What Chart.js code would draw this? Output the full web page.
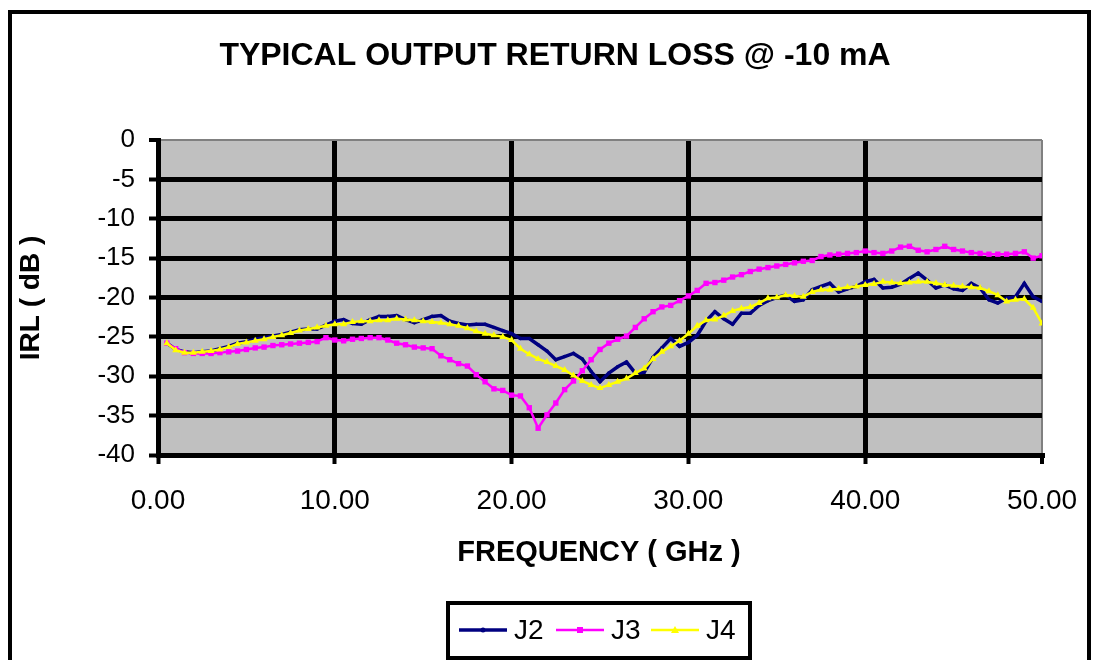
<!DOCTYPE html>
<html>
<head>
<meta charset="utf-8">
<title>Typical Output Return Loss</title>
<script src="https://cdn.jsdelivr.net/npm/chart.js@4.4.0/dist/chart.umd.min.js"></script>
<style>
    html, body { margin: 0; padding: 0; background: #fff; }
    #wrap { width: 1095px; height: 660px; }
</style>
</head>
<body>
<div id="wrap"><canvas id="irl" width="1095" height="660"></canvas></div>
<script>
// frequency in GHz, readings in dB
const freq = [
    0.5, 1.0, 1.5, 2.0, 2.5, 3.0, 3.5, 4.0, 4.5, 5.0,
    5.5, 6.0, 6.5, 7.0, 7.5, 8.0, 8.5, 9.0, 9.5, 10.0,
    10.5, 11.0, 11.5, 12.0, 12.5, 13.0, 13.5, 14.0, 14.5, 15.0,
    15.5, 16.0, 16.5, 17.0, 17.5, 18.0, 18.5, 19.0, 19.5, 20.0,
    20.5, 21.0, 21.5, 22.0, 22.5, 23.0, 23.5, 24.0, 24.5, 25.0,
    25.5, 26.0, 26.5, 27.0, 27.5, 28.0, 28.5, 29.0, 29.5, 30.0,
    30.5, 31.0, 31.5, 32.0, 32.5, 33.0, 33.5, 34.0, 34.5, 35.0,
    35.5, 36.0, 36.5, 37.0, 37.5, 38.0, 38.5, 39.0, 39.5, 40.0,
    40.5, 41.0, 41.5, 42.0, 42.5, 43.0, 43.5, 44.0, 44.5, 45.0,
    45.5, 46.0, 46.5, 47.0, 47.5, 48.0, 48.5, 49.0, 49.5, 50.0
];

const j2 = [
    -25.8, -26.6, -26.9, -27.0, -26.9, -26.8, -26.5, -26.2, -25.8, -25.6,
    -25.3, -25.1, -24.9, -24.7, -24.4, -24.1, -24.0, -24.0, -23.5, -23.0,
    -22.8, -23.3, -23.4, -22.8, -22.4, -22.4, -22.3, -22.8, -23.2, -22.8,
    -22.4, -22.3, -23.0, -23.3, -23.5, -23.4, -23.4, -23.8, -24.2, -24.6,
    -25.2, -25.2, -26.0, -26.8, -27.9, -27.5, -27.1, -27.8, -29.4, -30.7,
    -29.6, -28.8, -28.2, -29.6, -29.5, -27.6, -26.4, -25.2, -26.2, -25.7,
    -24.8, -23.0, -21.8, -22.7, -23.4, -22.0, -22.0, -21.0, -20.4, -20.0,
    -19.7, -20.5, -20.3, -19.0, -18.6, -18.2, -19.3, -18.9, -18.6, -18.0,
    -17.7, -18.8, -18.7, -18.3, -17.6, -16.9, -17.8, -18.8, -18.4, -18.9,
    -19.1, -18.2, -18.8, -20.3, -20.7, -20.1, -19.9, -18.2, -19.9, -20.5
];

const j3 = [
    -25.8, -26.5, -27.0, -27.1, -27.1, -27.1, -27.0, -26.9, -26.8, -26.6,
    -26.4, -26.3, -26.1, -26.0, -25.9, -25.8, -25.7, -25.6, -25.1, -25.4,
    -25.5, -25.3, -25.2, -25.1, -25.1, -25.4, -25.8, -26.0, -26.3, -26.4,
    -26.5, -27.4, -27.9, -28.4, -28.7, -29.8, -30.7, -31.6, -31.8, -32.4,
    -32.5, -34.0, -36.6, -34.9, -33.4, -31.7, -30.6, -29.3, -27.9, -26.6,
    -25.8, -25.3, -24.9, -23.8, -22.7, -21.8, -21.2, -21.0, -20.4, -19.8,
    -19.1, -18.2, -18.1, -17.8, -17.4, -17.1, -16.7, -16.4, -16.2, -16.0,
    -15.8, -15.6, -15.4, -15.3, -14.8, -14.6, -14.5, -14.4, -14.3, -14.1,
    -14.3, -14.4, -14.1, -13.6, -13.5, -14.0, -14.2, -13.9, -13.5, -13.9,
    -14.1, -14.3, -14.4, -14.5, -14.5, -14.5, -14.4, -14.2, -15.0, -14.7
];

const j4 = [
    -25.8, -26.7, -27.0, -27.0, -26.9, -26.8, -26.6, -26.3, -25.9, -25.7,
    -25.5, -25.3, -25.0, -24.8, -24.5, -24.2, -24.0, -23.8, -23.6, -23.4,
    -23.4, -23.1, -23.0, -23.0, -22.9, -22.9, -22.7, -22.8, -22.9, -23.0,
    -23.1, -23.2, -23.4, -23.6, -23.9, -24.3, -24.6, -24.8, -25.0, -25.4,
    -26.5, -27.2, -27.8, -28.2, -28.7, -29.2, -29.9, -30.6, -31.1, -31.5,
    -31.1, -30.7, -30.3, -29.6, -29.0, -27.8, -26.9, -26.2, -25.5, -24.6,
    -23.6, -22.9, -22.8, -22.3, -21.7, -21.4, -21.2, -20.7, -20.1, -20.0,
    -19.7, -19.8, -19.9, -19.3, -19.0, -19.0, -18.9, -18.7, -18.6, -18.4,
    -18.3, -18.0, -18.1, -18.2, -18.1, -18.0, -18.0, -18.2, -18.4, -18.5,
    -18.6, -18.7, -18.8, -19.2, -19.7, -20.5, -20.3, -20.2, -21.3, -23.3
];

const seriesNames = ["J2", "J3", "J4"];
const xTicks = [0, 10, 20, 30, 40, 50];
const yTicks = [0, -5, -10, -15, -20, -25, -30, -35, -40];

const FONT = "'Liberation Sans', Arial, sans-serif";

function pairs(vals) {
    return freq.map((f, i) => ({ x: f, y: vals[i] }));
}

// gray plot area + frame, titles and the boxed legend drawn by hand
const excelLook = {
    id: "excelLook",
    beforeDraw(chart) {
        const { ctx, chartArea: a } = chart;
        ctx.save();
        ctx.fillStyle = "#fff";
        ctx.fillRect(0, 0, chart.width, chart.height);
        ctx.fillStyle = "#c0c0c0";
        ctx.fillRect(a.left, a.top, a.right - a.left, a.bottom - a.top);
        ctx.restore();
    },
    afterDraw(chart) {
        const ctx = chart.ctx;
        ctx.save();
        // outer frame
        ctx.strokeStyle = "#000";
        ctx.lineWidth = 4;
        ctx.strokeRect(10, 12, 1079, 700);

        ctx.fillStyle = "#000";
        ctx.textAlign = "center";
        ctx.textBaseline = "middle";
        ctx.font = "bold 32px " + FONT;
        ctx.fillText("TYPICAL OUTPUT RETURN LOSS @ -10 mA", 555, 56);

        ctx.font = "bold 29px " + FONT;
        ctx.fillText("FREQUENCY ( GHz )", 599, 553);

        ctx.save();
        ctx.translate(31, 298);
        ctx.rotate(-Math.PI / 2);
        ctx.font = "bold 28px " + FONT;
        ctx.fillText("IRL ( dB )", 0, 0);
        ctx.restore();

        // legend
        ctx.fillStyle = "#fff";
        ctx.fillRect(448, 603, 302, 55);
        ctx.strokeStyle = "#000";
        ctx.lineWidth = 4;
        ctx.strokeRect(448, 603, 302, 55);

        const items = [
            { x: 459, tx: 514 },
            { x: 556, tx: 611 },
            { x: 651, tx: 706 }
        ];
        chart.data.datasets.forEach((ds, i) => {
            const it = items[i];
            const y = 630;
            ctx.strokeStyle = ds.borderColor;
            ctx.lineWidth = ds.borderWidth;
            ctx.beginPath();
            ctx.moveTo(it.x, y);
            ctx.lineTo(it.x + 48, y);
            ctx.stroke();
            ctx.fillStyle = ds.borderColor;
            const mx = it.x + 24;
            if (ds.pointStyle === "rect") {
                ctx.fillRect(mx - 3, y - 3, 6, 6);
            } else if (ds.pointStyle === "triangle") {
                ctx.beginPath();
                ctx.moveTo(mx, y - 4);
                ctx.lineTo(mx + 4, y + 3);
                ctx.lineTo(mx - 4, y + 3);
                ctx.closePath();
                ctx.fill();
            } else {
                ctx.beginPath();
                ctx.arc(mx, y, 2.5, 0, Math.PI * 2);
                ctx.fill();
            }
            ctx.fillStyle = "#000";
            ctx.textAlign = "left";
            ctx.font = "28px " + FONT;
            ctx.fillText(ds.label, it.tx, y + 1);
        });
        ctx.restore();
    }
};

new Chart(document.getElementById("irl"), {
    type: "line",
    data: {
        datasets: [
            {
                label: seriesNames[0],
                data: pairs(j2),
                borderColor: "#000080",
                backgroundColor: "#000080",
                borderWidth: 3.5,
                pointStyle: "circle",
                pointRadius: 1.8,
                pointBorderWidth: 0,
                order: 3
            },
            {
                label: seriesNames[1],
                data: pairs(j3),
                borderColor: "#ff00ff",
                backgroundColor: "#ff00ff",
                borderWidth: 2.5,
                pointStyle: "rect",
                pointRadius: 3.8,
                pointBorderWidth: 0,
                order: 2
            },
            {
                label: seriesNames[2],
                data: pairs(j4),
                borderColor: "#ffff00",
                backgroundColor: "#ffff00",
                borderWidth: 2.5,
                pointStyle: "triangle",
                pointRadius: 4,
                pointBorderWidth: 0,
                order: 1
            }
        ]
    },
    options: {
        responsive: false,
        animation: false,
        events: [],
        layout: { padding: { top: 140, right: 53, bottom: 0, left: 0 } },
        plugins: {
            legend: { display: false },
            title: { display: false },
            tooltip: { enabled: false }
        },
        scales: {
            x: {
                type: "linear",
                min: 0,
                max: 50,
                afterFit(s) {
                    s.height = 205;
                    s.paddingLeft = 0;
                    s.paddingRight = 0;
                },
                afterBuildTicks(s) {
                    s.ticks = xTicks.map(v => ({ value: v }));
                },
                ticks: {
                    color: "#000",
                    font: { family: FONT, size: 28 },
                    padding: 20,
                    maxRotation: 0,
                    callback: v => Number(v).toFixed(2)
                },
                grid: {
                    color: c => (c.tick && c.tick.value === 50 ? "#808080" : "#000"),
                    lineWidth: c => (c.tick && c.tick.value === 50 ? 2 : 5),
                    drawTicks: true,
                    tickLength: 9,
                    tickColor: "#000",
                    tickWidth: 4
                },
                border: { display: true, color: "#000", width: 5 }
            },
            y: {
                min: -40,
                max: 0,
                afterFit(s) {
                    s.width = 158;
                    s.paddingTop = 0;
                    s.paddingBottom = 0;
                },
                afterBuildTicks(s) {
                    s.ticks = yTicks.map(v => ({ value: v }));
                },
                ticks: {
                    color: "#000",
                    font: { family: FONT, size: 26 },
                    padding: 14
                },
                grid: {
                    color: c => (c.tick && c.tick.value === 0 ? "#808080" : "#000"),
                    lineWidth: c => (c.tick && c.tick.value === 0 ? 2 : 5),
                    drawTicks: true,
                    tickLength: 9,
                    tickColor: "#000",
                    tickWidth: 4
                },
                border: { display: true, color: "#000", width: 5 }
            }
        }
    },
    plugins: [excelLook]
});
</script>
</body>
</html>
